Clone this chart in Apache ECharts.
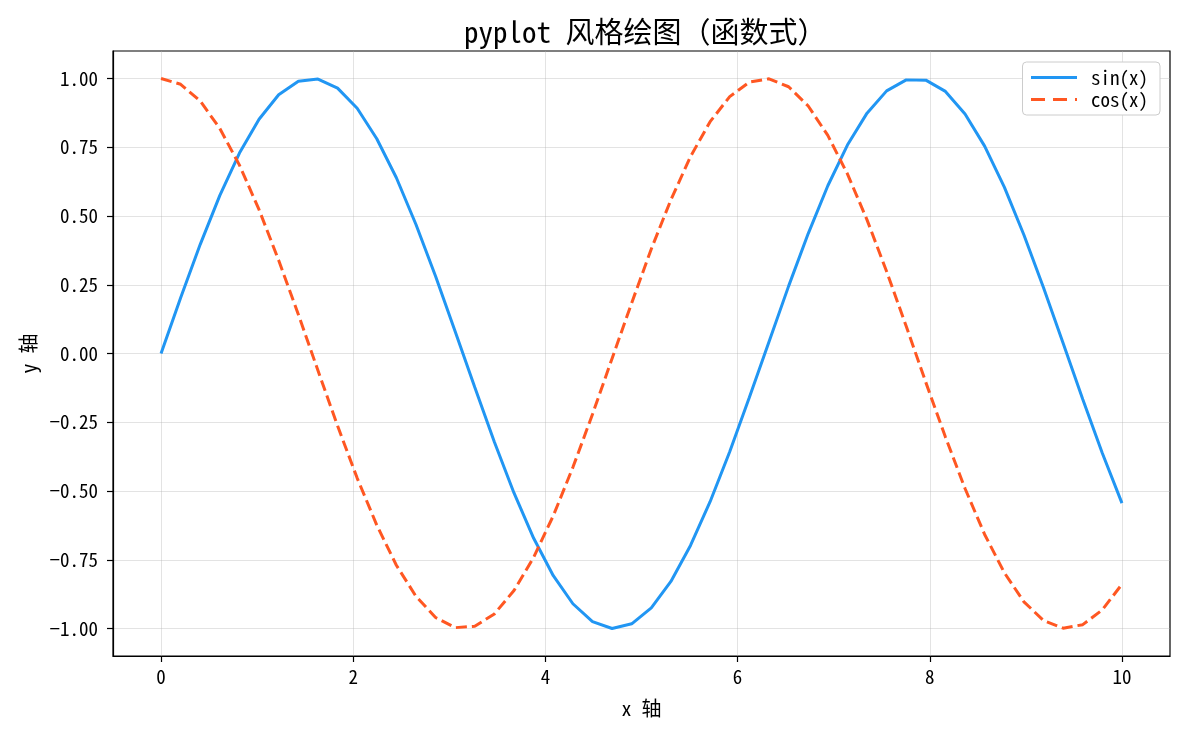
<!DOCTYPE html>
<html><head><meta charset="utf-8">
<script src="https://cdn.jsdelivr.net/npm/echarts@6/dist/echarts.min.js"></script>
<style>html,body{margin:0;padding:0;background:#fff}#c{width:1184px;height:734px}</style>
</head><body><div id="c"></div>
<script>
const xValues = [0.000,0.204,0.408,0.612,0.816,1.020,1.224,1.429,1.633,1.837,2.041,2.245,2.449,2.653,2.857,3.061,3.265,3.469,3.673,3.878,4.082,4.286,4.490,4.694,4.898,5.102,5.306,5.510,5.714,5.918,6.122,6.327,6.531,6.735,6.939,7.143,7.347,7.551,7.755,7.959,8.163,8.367,8.571,8.776,8.980,9.184,9.388,9.592,9.796,10.000];
const sinValues = [0.000,0.203,0.397,0.575,0.729,0.852,0.941,0.990,0.998,0.965,0.892,0.781,0.639,0.469,0.281,0.080,-0.123,-0.322,-0.507,-0.672,-0.808,-0.910,-0.975,-1.000,-0.983,-0.925,-0.829,-0.698,-0.539,-0.357,-0.160,0.043,0.245,0.436,0.610,0.758,0.874,0.955,0.995,0.994,0.953,0.871,0.754,0.605,0.431,0.239,0.037,-0.166,-0.363,-0.544];
const cosValues = [1.000,0.979,0.918,0.818,0.685,0.523,0.339,0.142,-0.062,-0.263,-0.453,-0.624,-0.770,-0.883,-0.960,-0.997,-0.992,-0.947,-0.862,-0.741,-0.590,-0.414,-0.221,-0.018,0.184,0.380,0.559,0.716,0.843,0.934,0.987,0.999,0.970,0.900,0.793,0.653,0.486,0.298,0.099,-0.105,-0.304,-0.491,-0.658,-0.797,-0.903,-0.971,-0.999,-0.986,-0.932,-0.839];
const xTicks = [0,2,4,6,8,10];
const yTicks = [-1.00,-0.75,-0.50,-0.25,0.00,0.25,0.50,0.75,1.00];
const seriesNames = ['sin(x)','cos(x)'];
const titleText = 'pyplot 风格绘图（函数式）';
const xName = 'x 轴';
const yName = 'y 轴';

const FONT = "'Noto Sans Mono CJK SC','DejaVu Sans Mono','Noto Sans CJK SC',sans-serif";
const chart = echarts.init(document.getElementById('c'), null, {renderer:'canvas'});
const gridLine = {show:true, lineStyle:{color:'rgba(176,176,176,0.35)', width:1}};
chart.setOption({
  animation:false,
  backgroundColor:'#fff',
  title:{text:titleText, left:459, top:12, textStyle:{fontFamily:FONT, fontSize:29, fontWeight:'normal', color:'#000'}},
  grid:{left:113, right:14, top:51, bottom:78, show:true, borderColor:'#000', borderWidth:1.2, backgroundColor:'transparent'},
  legend:{
    orient:'vertical', right:24, top:62, itemWidth:46, itemHeight:14, itemGap:3,
    padding:[6,12,6,7], backgroundColor:'#fff', borderColor:'#ccc', borderWidth:1, borderRadius:4,
    itemStyle:{opacity:0},
    textStyle:{fontFamily:FONT, fontSize:19, color:'#000', padding:[0,0,0,9]},
    data:[
      {name:seriesNames[0], lineStyle:{width:3, type:'solid'}},
      {name:seriesNames[1], lineStyle:{width:3, type:[14,8]}}
    ]
  },
  xAxis:{
    type:'value', min:-0.5, max:10.5,
    name:xName, nameLocation:'middle', nameGap:42,
    nameTextStyle:{fontFamily:FONT, fontSize:20, color:'#000'},
    axisLine:{show:true, onZero:false, lineStyle:{color:'#000', width:1.2}},
    axisTick:{show:true, inside:false, length:6, customValues:xTicks, lineStyle:{color:'#000', width:1.2}},
    axisLabel:{customValues:xTicks, fontFamily:FONT, fontSize:19, color:'#000', margin:11},
    splitLine:Object.assign({customValues:xTicks}, gridLine)
  },
  yAxis:{
    type:'value', min:-1.1, max:1.1,
    name:yName, nameLocation:'middle', nameGap:75, nameRotate:90,
    nameTextStyle:{fontFamily:FONT, fontSize:20, color:'#000'},
    axisLine:{show:true, onZero:false, lineStyle:{color:'#000', width:1.2}},
    axisTick:{show:true, inside:false, length:6, customValues:yTicks, lineStyle:{color:'#000', width:1.2}},
    axisLabel:{customValues:yTicks, fontFamily:FONT, fontSize:19, color:'#000', margin:15, formatter:v=>v.toFixed(2).replace('-','−')},
    splitLine:Object.assign({customValues:yTicks}, gridLine)
  },
  series:[
    {name:seriesNames[0], type:'line', symbol:'none', data:xValues.map((x,i)=>[x,sinValues[i]]),
     color:'#2196F3', lineStyle:{color:'#2196F3', width:3}},
    {name:seriesNames[1], type:'line', symbol:'none', data:xValues.map((x,i)=>[x,cosValues[i]]),
     color:'#FF5722', lineStyle:{color:'#FF5722', width:3, type:[11,5]}}
  ]
});
</script></body></html>
